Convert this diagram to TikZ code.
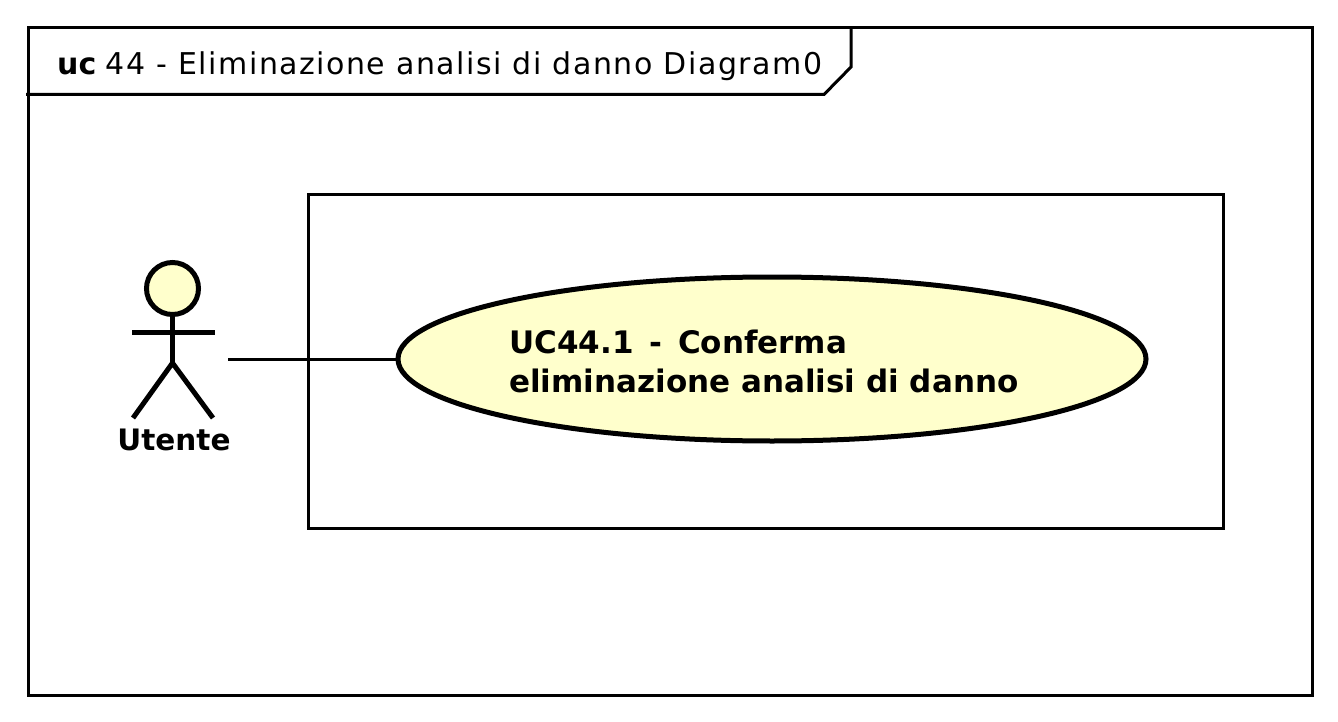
\documentclass[tikz,border=0pt]{standalone}
\usepackage{fontspec}
\setmainfont{DejaVu Sans}
\usetikzlibrary{shapes.geometric}
\definecolor{ucfill}{RGB}{255,255,204}
\tikzset{
 x=1pt,y=-1pt,
 frameline/.style={draw=black,line width=3pt},
 actorline/.style={draw=black,line width=5pt},
 conn/.style={draw=black,line width=3pt},
 bold label/.style={inner sep=0pt,anchor=base west,font=\fontsize{31}{38}\selectfont\bfseries,text=black},
}
\begin{document}
\begin{tikzpicture}
\useasboundingbox (0,0) rectangle (1338,722);
\path[frameline] (28,28) rectangle (1312,695);
\path[frameline] (26,94.5) -- (824,94.5) -- (851,67) -- (851,28);
\node[inner sep=0pt,anchor=base west,font=\fontsize{30}{36}\selectfont] (title) at (57,75) {\textbf{uc} \addfontfeature{LetterSpace=5.0}44 - Eliminazione analisi di danno Diagram0};
\node[frameline,inner sep=0pt,minimum width=915pt,minimum height=333pt,fill=white] (sys) at (765.5,361.5) {};
\node[ellipse,draw=black,line width=5pt,fill=ucfill,inner sep=0pt,minimum width=748pt,minimum height=164pt] (uc) at (772,359) {};
\node[bold label] (uct1) at (509,353) {UC44.1\hspace{5pt} - \hspace{5pt}Conferma};
\node[bold label] (uct2) at (509,392) {eliminazione analisi di danno};
\node[circle,actorline,fill=ucfill,inner sep=0pt,minimum size=52pt] (head) at (172.5,288.5) {};
\coordinate (hip) at (172.5,363);
\coordinate (armL) at (132,332);
\coordinate (armR) at (215,332);
\coordinate (legL) at (133,418);
\coordinate (legR) at (213,418);
\coordinate (free) at (228,359);
\path[actorline] (head.south) -- (hip);
\path[actorline] (armL) -- (armR);
\path[actorline] (legL) -- (hip) -- (legR);
\node[bold label,anchor=base,font=\fontsize{29.5}{36}\selectfont\bfseries] (actor) at (174,450) {Utente};
\path[conn] (free) -- (uc.west);
\end{tikzpicture}
\end{document}
